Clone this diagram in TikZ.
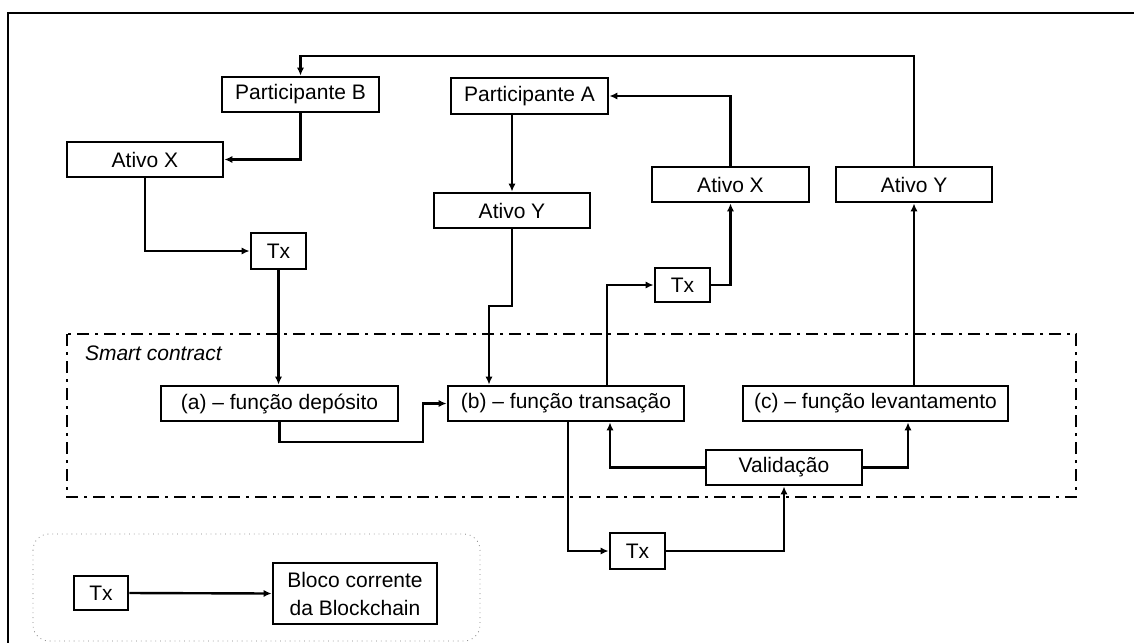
\documentclass[tikz,border=0pt]{standalone}
\usepackage{fontspec}
\setmainfont{Liberation Sans}
\usetikzlibrary{arrows.meta,calc}
\newcommand\figfont{\fontsize{10.5}{14}\selectfont}
\tikzset{
  box/.style={draw, line width=1.4pt, inner sep=0pt, minimum height=17.5pt,
              align=center, font=\figfont},
  conn/.style={line width=1.2pt, -{Latex[length=4pt,width=3.6pt]}},
  frame/.style={line width=1.2pt},
  contract/.style={line width=1.3pt, dash pattern=on 6pt off 3pt on 1.5pt off 3pt},
  legend/.style={draw=gray, line width=0.4pt, dotted, rounded corners=8pt},
}
\begin{document}
\begin{tikzpicture}[x=0.5pt, y=-0.5pt]
  \useasboundingbox (0,0) rectangle (1134,643);

  % outer frame (open on the right and bottom)
  \draw[frame] (1134,13) -- (8,13) -- (8,643);

  % smart contract region and legend area
  \draw[contract] (67,334) rectangle (1076,497);
  \node[anchor=west, font=\figfont\itshape] (sc) at (78,353) {Smart contract};
  \draw[legend] (33,534) rectangle (480,641);

  % participants and assets
  \node[box, minimum width=78.5pt] (pB)  at (300.5,94.5) {Participante B};
  \node[box, minimum width=78pt]   (axL) at (145,159.5)  {Ativo X};
  \node[box, minimum width=27.5pt, minimum height=18pt] (txL) at (278.5,251) {Tx};
  \node[box, minimum width=78.5pt, minimum height=18pt] (pA)  at (529.5,96) {Participante A};
  \node[box, minimum width=78pt]   (ayM) at (512,210.5)  {Ativo Y};
  \node[box, minimum width=78.5pt] (axR) at (730.5,184.5) {Ativo X};
  \node[box, minimum width=78pt]   (ayR) at (914,184.5)  {Ativo Y};
  \node[box, minimum width=27.5pt, minimum height=17pt] (txM) at (682.5,285) {Tx};

  % contract functions
  \node[box, minimum width=118.5pt] (fa) at (279.5,403.5) {(a) -- função depósito};
  \node[box, minimum width=118pt]   (fb) at (566,403.5)   {(b) -- função transação};
  \node[box, minimum width=132.5pt] (fc) at (875.5,403.5) {(c) -- função levantamento};
  \node[box, minimum width=78pt]    (val) at (784,467.5)  {Validação};
  \node[box, minimum width=27.5pt, minimum height=18pt] (txB) at (637.5,551) {Tx};

  % legend
  \node[box, minimum width=27pt, minimum height=17pt] (lTx) at (101,593) {Tx};
  \node[box, minimum width=82pt, minimum height=30.5pt] (bloco) at (355,593.5)
       {Bloco corrente\\da Blockchain};

  % routing points
  \coordinate (topY) at (0,56);
  \coordinate (j1) at (489,306);
  \coordinate (j2) at (423,442);
  \coordinate (j3) at (607,0);
  \coordinate (j4) at (568,0);
  \coordinate (j5) at (610,0);
  \coordinate (j6) at (908,0);

  % connectors
  \draw[conn] (ayR.north) |- (topY -| pB.north) -- (pB.north);
  \draw[conn] (pB.south) |- (axL.east);
  \draw[conn] (axL.south) |- (txL.west);
  \draw[conn] (txL.south) -- (txL.south |- fa.north);
  \draw[conn] (ayM.north |- pA.south) -- (ayM.north);
  \draw[conn] (ayM.south) |- (j1) -- (j1 |- fb.north);
  \draw[conn] (fa.south) |- (j2) |- (fb.west);
  \draw[conn] (j3 |- fb.north) |- (txM.west);
  \draw[conn] (txM.east) -| (axR.south);
  \draw[conn] (axR.north) |- (pA.east);
  \draw[conn] (j4 |- fb.south) |- (txB.west);
  \draw[conn] (txB.east) -| (val.south);
  \draw[conn] (val.west) -| (j5 |- fb.south);
  \draw[conn] (val.east) -| (j6 |- fc.south);
  \draw[conn] (ayR.south |- fc.north) -- (ayR.south);
  \draw[conn] (lTx.east) -- (bloco.west);
\end{tikzpicture}
\end{document}
